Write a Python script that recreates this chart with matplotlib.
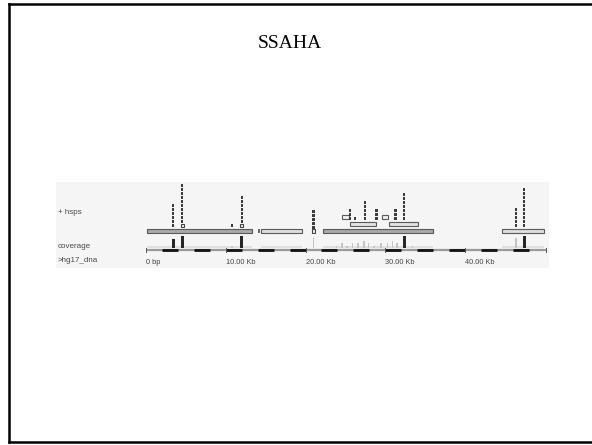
import matplotlib
matplotlib.use("Agg")
import matplotlib.pyplot as plt
from matplotlib.patches import Rectangle

# slide title
title = "SSAHA"

# track labels of the embedded browser picture
track_labels = ["+ hsps", "coverage", ">hg17_dna"]

# hsp stacks: position (kb), number of hits, bottom hit drawn as open box, level it sits on
hsp_kb = [3.42, 4.55, 10.78, 12.0, 20.98, 25.6, 26.2, 27.46, 28.9, 31.26, 32.35, 46.4, 47.4]
hsp_n = [6, 11, 1, 8, 6, 3, 1, 5, 3, 3, 7, 5, 10]
hsp_box = [0, 1, 0, 1, 1, 0, 0, 0, 0, 0, 0, 0, 0]
hsp_level = [0, 0, 0, 0, 1, 2, 2, 2, 2, 2, 2, 0, 0]

# long hsp blocks (kb)
block_start = [0.09, 14.42, 22.23, 44.6]
block_end = [13.25, 19.6, 36.03, 49.9]
block_dark = [1, 0, 1, 0]

# smaller blocks sitting on top of the third block (kb)
upper_start = [25.58, 30.5]
upper_end = [28.84, 34.14]
box_start = [24.58, 29.55]
box_end = [25.45, 30.38]

# coverage peaks (kb, depth)
cov_kb = [3.42, 4.55, 10.78, 12.0, 20.98, 23.9, 24.6, 25.2, 25.9, 26.6, 27.3,
          27.9, 28.6, 29.5, 30.3, 30.9, 31.5, 32.35, 33.4, 46.4, 47.4]
cov_depth = [6, 8, 1, 8, 4, 1, 2, 1, 2, 2, 3, 2, 1, 2, 2, 3, 2, 9, 1, 4, 9]

# ruler
seq_len = 50.16
tick_kb = [0, 10, 20, 30, 40]
tick_labels = ["0 bp", "10.00 Kb", "20.00 Kb", "30.00 Kb", "40.00 Kb"]

fig = plt.figure(figsize=(5.92, 4.45), dpi=100)

# slide frame, in pixel units
ax0 = fig.add_axes([0, 0, 1, 1])
ax0.set_xlim(0, 592)
ax0.set_ylim(445, 0)
ax0.axis("off")
ax0.plot([9, 9], [4, 442], color="black", lw=1.8, solid_capstyle="projecting")
ax0.plot([9, 592], [4, 4], color="black", lw=1.8, solid_capstyle="projecting")
ax0.plot([9, 592], [442, 442], color="black", lw=1.8, solid_capstyle="projecting")
ax0.text(290, 43, title, ha="center", va="center", fontsize=14,
         family="Liberation Serif")

# browser picture: x in kb, y in pixel rows
ax = fig.add_axes([56 / 592, (445 - 268) / 445, 493 / 592, 86 / 445])
ax.set_facecolor("#f5f5f5")
ax.set_xlim(-11.285, 50.53)
ax.set_ylim(268, 182)
ax.set_xticks([])
ax.set_yticks([])
for s in ax.spines.values():
    s.set_visible(False)

kb_px = 1 / 7.975  # one pixel in kb

# labels
for lab, y in zip(track_labels, [212, 246, 260]):
    ax.text(0.004, y, lab, transform=ax.get_yaxis_transform(), ha="left",
            va="center", fontsize=5.8, color="#484848", family="Liberation Sans")

# long blocks
for s, e, d in zip(block_start, block_end, block_dark):
    ax.add_patch(Rectangle((s, 228.5), e - s, 4.5,
                           facecolor="#a9a9a9" if d else "#dedede",
                           edgecolor="#5a5a5a", lw=0.8))
ax.add_patch(Rectangle((14.0, 228.5), 0.25, 4.5, facecolor="#666666", lw=0))

# upper blocks and small boxes
for s, e in zip(upper_start, upper_end):
    ax.add_patch(Rectangle((s, 221.8), e - s, 4.2, facecolor="#e2e2e2",
                           edgecolor="#5a5a5a", lw=0.8))
for s, e in zip(box_start, box_end):
    ax.add_patch(Rectangle((s, 215.2), e - s, 4.0, facecolor="#f0f0f0",
                           edgecolor="#5a5a5a", lw=0.8))

# hsp stacks
level_base = {0: 227.5, 1: 233, 2: 220.5}
for x, n, b, lev in zip(hsp_kb, hsp_n, hsp_box, hsp_level):
    base = level_base[lev]
    for i in range(n):
        top = base - 4 * (i + 1)
        if i == 0 and b:
            ax.add_patch(Rectangle((x - 1.6 * kb_px, top + 0.4), 3.2 * kb_px, 3.4,
                                   facecolor="#f4f4f4", edgecolor="#444444", lw=0.8))
        else:
            ax.bar(x, 3.0, width=2.4 * kb_px, bottom=top + 0.5, color="#3c3c3c")

# coverage
for s, e in zip(block_start, block_end):
    ax.add_patch(Rectangle((s, 246.3), e - s, 1.6, facecolor="#e0e0e0", lw=0))
for x, d in zip(cov_kb, cov_depth):
    dark = d >= 5
    h = min(d, 8) * 1.5 if dark else min(d * 2.5, 10)
    ax.bar(x, h, width=(3.0 if dark else 1.6) * kb_px, bottom=248 - h,
           color="#262626" if dark else "#c4c4c4")

# ruler
ax.plot([0, seq_len], [250.2, 250.2], color="#9a9a9a", lw=1.6, solid_capstyle="butt")
for k in range(2, 48, 4):
    ax.plot([k, k + 2], [250.2, 250.2], color="#111111", lw=2.0, solid_capstyle="butt")
for k in tick_kb + [seq_len]:
    ax.plot([k, k], [248.3, 252.2], color="#555555", lw=0.7)
for k, lab in zip(tick_kb, tick_labels):
    ax.text(k, 262, lab, ha="left", va="center", fontsize=5.3, color="#444444",
            family="Liberation Sans")

fig.savefig("out.png", dpi=100)
